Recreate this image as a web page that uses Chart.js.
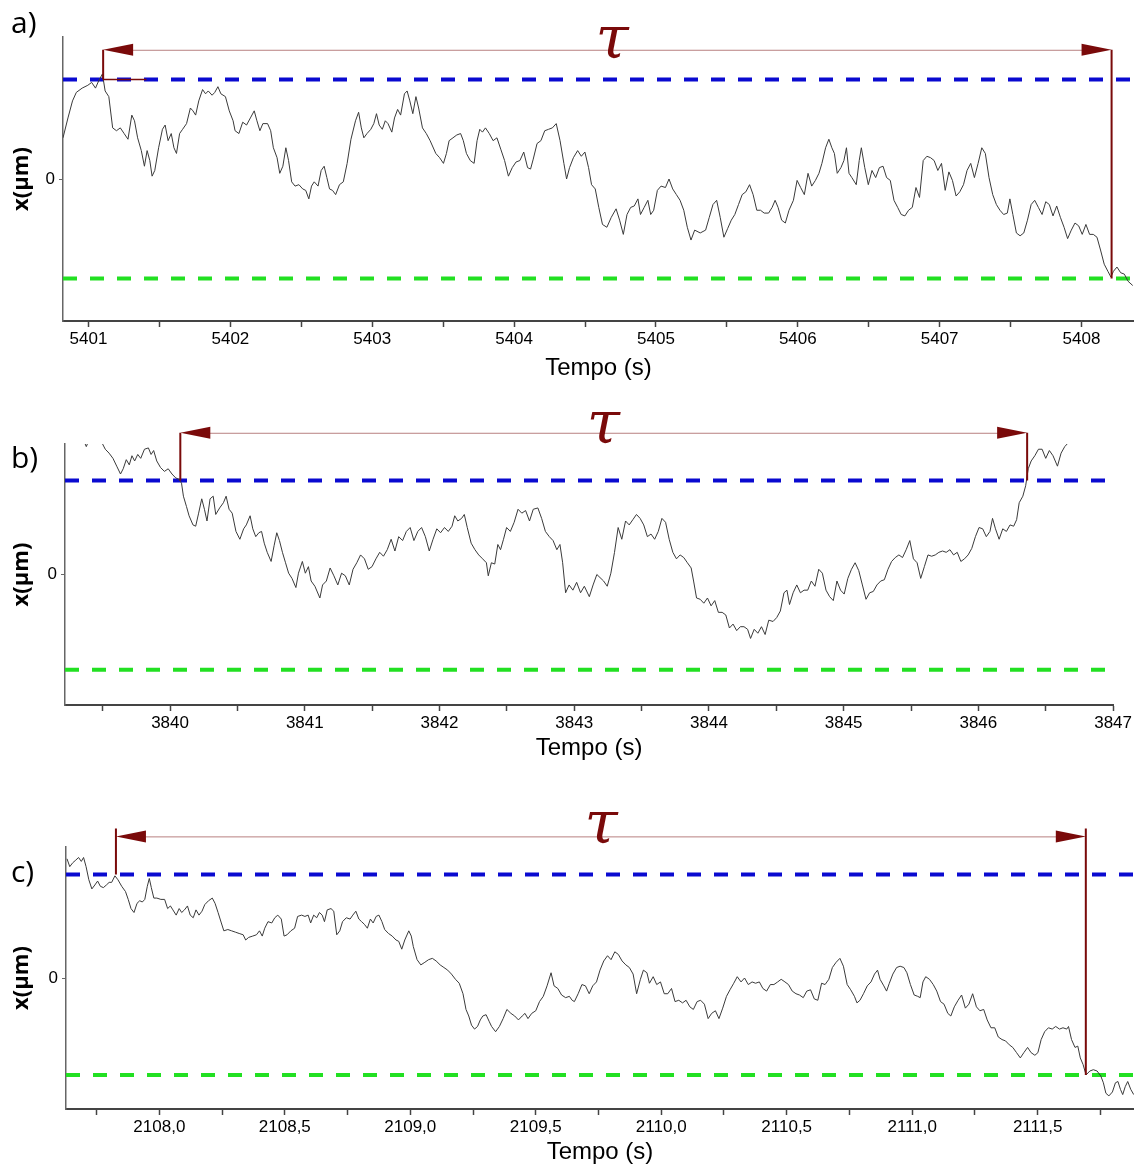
<!DOCTYPE html>
<html lang="pt">
<head>
<meta charset="UTF-8">
<title>Tempo de passagem</title>
<script src="https://cdn.jsdelivr.net/npm/chart.js"></script>
<style>
  body { margin: 0; background: #fff; }
  #wrap { position: relative; width: 1134px; height: 1164px; }
  #wrap canvas { position: absolute; left: 0; }
</style>
</head>
<body>
<div id="wrap">
  <canvas id="chartA" width="1134" height="390" style="top:0"></canvas>
  <canvas id="chartB" width="1134" height="390" style="top:390px"></canvas>
  <canvas id="chartC" width="1134" height="384" style="top:780px"></canvas>
</div>
<script>
// traces: [tempo (s), x]
const traceA = [
  [5400.820,0.29],[5400.855,0.43],[5400.887,0.55],[5400.914,0.61],[5400.955,0.64],[5400.995,0.66],[5401.022,0.68],[5401.049,0.64],[5401.071,0.69],[5401.098,0.74],
  [5401.117,0.62],[5401.143,0.58],[5401.170,0.36],[5401.197,0.34],[5401.224,0.36],[5401.251,0.32],[5401.278,0.28],[5401.305,0.45],[5401.324,0.41],[5401.346,0.29],
  [5401.372,0.20],[5401.394,0.09],[5401.413,0.20],[5401.432,0.13],[5401.448,0.02],[5401.467,0.06],[5401.494,0.22],[5401.521,0.35],[5401.540,0.38],[5401.561,0.27],
  [5401.583,0.32],[5401.602,0.22],[5401.620,0.18],[5401.642,0.32],[5401.663,0.35],[5401.691,0.39],[5401.718,0.50],[5401.736,0.48],[5401.755,0.45],[5401.777,0.55],
  [5401.804,0.63],[5401.825,0.60],[5401.844,0.62],[5401.871,0.59],[5401.890,0.61],[5401.912,0.65],[5401.933,0.60],[5401.965,0.58],[5401.992,0.48],[5402.019,0.41],
  [5402.033,0.34],[5402.060,0.32],[5402.087,0.40],[5402.114,0.38],[5402.141,0.43],[5402.168,0.48],[5402.187,0.41],[5402.208,0.34],[5402.229,0.39],[5402.262,0.39],
  [5402.284,0.34],[5402.303,0.22],[5402.329,0.15],[5402.348,0.04],[5402.370,0.09],[5402.391,0.22],[5402.410,0.13],[5402.432,-0.02],[5402.456,-0.05],[5402.483,-0.04],
  [5402.510,-0.07],[5402.531,-0.08],[5402.553,-0.14],[5402.572,-0.05],[5402.591,-0.02],[5402.618,-0.05],[5402.640,0.06],[5402.661,0.09],[5402.680,0.01],[5402.699,-0.07],
  [5402.720,-0.08],[5402.742,-0.11],[5402.769,-0.04],[5402.796,-0.02],[5402.823,0.11],[5402.850,0.28],[5402.882,0.41],[5402.904,0.47],[5402.923,0.36],[5402.941,0.29],
  [5402.963,0.32],[5402.990,0.35],[5403.011,0.39],[5403.030,0.46],[5403.049,0.38],[5403.071,0.35],[5403.092,0.41],[5403.111,0.39],[5403.138,0.33],[5403.157,0.43],
  [5403.179,0.49],[5403.200,0.45],[5403.227,0.60],[5403.246,0.62],[5403.265,0.55],[5403.286,0.46],[5403.308,0.58],[5403.327,0.50],[5403.354,0.36],[5403.381,0.32],
  [5403.408,0.27],[5403.448,0.18],[5403.475,0.15],[5403.502,0.11],[5403.523,0.18],[5403.542,0.27],[5403.569,0.29],[5403.596,0.31],[5403.623,0.32],[5403.642,0.27],
  [5403.664,0.18],[5403.691,0.13],[5403.718,0.11],[5403.739,0.27],[5403.758,0.35],[5403.777,0.33],[5403.798,0.36],[5403.825,0.32],[5403.852,0.27],[5403.879,0.29],
  [5403.906,0.21],[5403.933,0.13],[5403.960,0.02],[5403.987,0.08],[5404.014,0.12],[5404.041,0.13],[5404.068,0.19],[5404.095,0.08],[5404.116,0.07],[5404.135,0.14],
  [5404.162,0.25],[5404.189,0.27],[5404.216,0.34],[5404.243,0.35],[5404.270,0.36],[5404.297,0.39],[5404.324,0.27],[5404.351,0.11],[5404.370,0.00],[5404.391,0.08],
  [5404.418,0.15],[5404.448,0.20],[5404.474,0.16],[5404.499,0.19],[5404.525,0.08],[5404.546,-0.04],[5404.572,-0.07],[5404.597,-0.20],[5404.623,-0.32],[5404.654,-0.34],
  [5404.685,-0.27],[5404.719,-0.21],[5404.744,-0.29],[5404.770,-0.39],[5404.796,-0.25],[5404.822,-0.20],[5404.847,-0.19],[5404.873,-0.14],[5404.891,-0.25],[5404.917,-0.20],
  [5404.943,-0.15],[5404.963,-0.25],[5404.984,-0.22],[5405.010,-0.08],[5405.036,-0.05],[5405.067,-0.06],[5405.092,0.00],[5405.118,-0.07],[5405.144,-0.11],[5405.170,-0.15],
  [5405.196,-0.22],[5405.221,-0.34],[5405.247,-0.43],[5405.273,-0.36],[5405.312,-0.38],[5405.350,-0.36],[5405.376,-0.27],[5405.402,-0.18],[5405.428,-0.15],[5405.453,-0.27],
  [5405.479,-0.41],[5405.505,-0.35],[5405.531,-0.29],[5405.556,-0.25],[5405.582,-0.18],[5405.608,-0.11],[5405.634,-0.09],[5405.660,-0.04],[5405.685,-0.11],[5405.711,-0.22],
  [5405.737,-0.22],[5405.763,-0.24],[5405.794,-0.24],[5405.819,-0.20],[5405.840,-0.15],[5405.861,-0.20],[5405.886,-0.29],[5405.912,-0.31],[5405.938,-0.22],[5405.969,-0.15],
  [5405.995,-0.01],[5406.020,-0.06],[5406.046,-0.11],[5406.072,0.04],[5406.098,-0.05],[5406.124,-0.01],[5406.149,0.04],[5406.170,0.11],[5406.196,0.22],[5406.219,0.28],
  [5406.240,0.22],[5406.258,0.18],[5406.278,0.04],[5406.304,0.08],[5406.325,0.13],[5406.343,0.22],[5406.361,0.04],[5406.381,0.01],[5406.412,-0.04],[5406.433,0.13],
  [5406.448,0.22],[5406.472,0.08],[5406.497,-0.04],[5406.523,0.06],[5406.549,0.01],[5406.575,0.08],[5406.601,0.09],[5406.626,0.01],[5406.652,-0.01],[5406.678,-0.15],
  [5406.704,-0.20],[5406.729,-0.25],[5406.755,-0.26],[5406.781,-0.22],[5406.807,-0.20],[5406.833,-0.06],[5406.858,-0.13],[5406.884,0.13],[5406.910,0.16],[5406.936,0.15],
  [5406.961,0.13],[5406.987,0.06],[5407.013,0.11],[5407.039,-0.08],[5407.065,0.05],[5407.090,-0.01],[5407.116,-0.12],[5407.142,-0.09],[5407.168,-0.04],[5407.193,0.06],
  [5407.219,0.11],[5407.245,0.01],[5407.271,0.11],[5407.297,0.22],[5407.322,0.18],[5407.348,0.01],[5407.374,-0.11],[5407.400,-0.18],[5407.425,-0.22],[5407.451,-0.25],
  [5407.477,-0.24],[5407.495,-0.14],[5407.516,-0.25],[5407.541,-0.38],[5407.567,-0.40],[5407.593,-0.38],[5407.619,-0.29],[5407.645,-0.18],[5407.670,-0.15],[5407.696,-0.20],
  [5407.722,-0.25],[5407.748,-0.16],[5407.773,-0.18],[5407.799,-0.26],[5407.825,-0.19],[5407.851,-0.27],[5407.877,-0.34],[5407.902,-0.42],[5407.928,-0.36],[5407.954,-0.31],
  [5407.980,-0.33],[5408.005,-0.39],[5408.031,-0.32],[5408.057,-0.39],[5408.083,-0.39],[5408.109,-0.41],[5408.134,-0.50],[5408.160,-0.60],[5408.186,-0.65],[5408.207,-0.69],
  [5408.225,-0.65],[5408.250,-0.62],[5408.276,-0.66],[5408.302,-0.67],[5408.328,-0.72],[5408.361,-0.75]
];
const traceB = [
  [3839.222,1.10],[3839.349,1.05],[3839.378,0.98],[3839.406,1.05],[3839.477,1.06],[3839.499,1.00],[3839.519,0.96],[3839.547,0.93],[3839.576,0.89],[3839.604,0.83],
  [3839.632,0.77],[3839.652,0.81],[3839.675,0.88],[3839.697,0.84],[3839.717,0.91],[3839.737,0.87],[3839.760,0.92],[3839.782,0.89],[3839.810,0.96],[3839.839,0.97],
  [3839.859,0.92],[3839.878,0.95],[3839.901,0.87],[3839.929,0.82],[3839.958,0.79],[3839.986,0.81],[3840.014,0.77],[3840.042,0.74],[3840.065,0.73],[3840.085,0.70],
  [3840.099,0.60],[3840.122,0.52],[3840.141,0.45],[3840.170,0.38],[3840.190,0.37],[3840.212,0.47],[3840.235,0.58],[3840.255,0.50],[3840.274,0.41],[3840.297,0.58],
  [3840.320,0.60],[3840.339,0.46],[3840.368,0.51],[3840.396,0.55],[3840.416,0.60],[3840.438,0.50],[3840.461,0.47],[3840.489,0.33],[3840.518,0.27],[3840.546,0.35],
  [3840.566,0.38],[3840.594,0.45],[3840.614,0.35],[3840.636,0.29],[3840.659,0.32],[3840.679,0.33],[3840.699,0.24],[3840.721,0.17],[3840.750,0.10],[3840.772,0.22],
  [3840.792,0.32],[3840.812,0.26],[3840.834,0.17],[3840.857,0.09],[3840.880,0.01],[3840.905,-0.03],[3840.934,-0.10],[3840.953,0.01],[3840.982,0.10],[3841.004,0.01],
  [3841.027,0.06],[3841.047,-0.05],[3841.075,-0.09],[3841.112,-0.18],[3841.132,-0.08],[3841.160,-0.05],[3841.188,0.05],[3841.216,-0.01],[3841.245,-0.08],[3841.273,0.01],
  [3841.301,-0.01],[3841.330,-0.08],[3841.358,0.04],[3841.386,0.09],[3841.414,0.15],[3841.443,0.12],[3841.471,0.04],[3841.499,0.06],[3841.528,0.12],[3841.556,0.17],
  [3841.584,0.14],[3841.612,0.19],[3841.641,0.27],[3841.669,0.18],[3841.697,0.29],[3841.726,0.26],[3841.754,0.33],[3841.782,0.36],[3841.810,0.26],[3841.839,0.33],
  [3841.867,0.36],[3841.895,0.29],[3841.924,0.18],[3841.952,0.27],[3841.980,0.35],[3842.008,0.32],[3842.037,0.36],[3842.065,0.33],[3842.093,0.37],[3842.113,0.45],
  [3842.136,0.41],[3842.164,0.43],[3842.184,0.46],[3842.206,0.36],[3842.235,0.24],[3842.263,0.19],[3842.291,0.15],[3842.320,0.12],[3842.348,0.09],[3842.362,-0.01],
  [3842.385,0.09],[3842.410,0.08],[3842.433,0.23],[3842.453,0.19],[3842.475,0.27],[3842.498,0.36],[3842.526,0.33],[3842.554,0.40],[3842.583,0.50],[3842.611,0.47],
  [3842.639,0.49],[3842.668,0.41],[3842.696,0.50],[3842.730,0.51],[3842.758,0.43],[3842.786,0.33],[3842.815,0.29],[3842.843,0.26],[3842.871,0.19],[3842.894,0.23],
  [3842.914,0.09],[3842.936,-0.14],[3842.962,-0.08],[3842.990,-0.12],[3843.018,-0.06],[3843.047,-0.14],[3843.075,-0.09],[3843.112,-0.17],[3843.140,-0.08],[3843.168,0.00],
  [3843.218,-0.05],[3843.245,-0.09],[3843.272,0.01],[3843.299,0.17],[3843.326,0.36],[3843.353,0.27],[3843.381,0.41],[3843.408,0.38],[3843.435,0.42],[3843.462,0.46],
  [3843.489,0.43],[3843.516,0.38],[3843.543,0.29],[3843.570,0.31],[3843.597,0.27],[3843.624,0.33],[3843.651,0.43],[3843.678,0.40],[3843.705,0.27],[3843.732,0.17],
  [3843.759,0.12],[3843.786,0.15],[3843.813,0.13],[3843.840,0.09],[3843.868,0.05],[3843.886,-0.05],[3843.908,-0.18],[3843.935,-0.19],[3843.962,-0.22],[3843.989,-0.18],
  [3844.016,-0.24],[3844.043,-0.20],[3844.070,-0.29],[3844.098,-0.29],[3844.125,-0.31],[3844.152,-0.41],[3844.179,-0.38],[3844.206,-0.43],[3844.233,-0.40],[3844.260,-0.40],
  [3844.287,-0.42],[3844.309,-0.49],[3844.336,-0.42],[3844.363,-0.45],[3844.390,-0.40],[3844.417,-0.46],[3844.444,-0.35],[3844.476,-0.36],[3844.503,-0.33],[3844.530,-0.28],
  [3844.557,-0.14],[3844.579,-0.12],[3844.598,-0.23],[3844.625,-0.14],[3844.652,-0.08],[3844.679,-0.14],[3844.706,-0.12],[3844.733,-0.12],[3844.760,-0.05],[3844.787,-0.09],
  [3844.815,0.04],[3844.842,0.01],[3844.869,-0.12],[3844.896,-0.17],[3844.923,-0.20],[3844.950,-0.05],[3844.977,-0.12],[3845.004,-0.15],[3845.031,-0.03],[3845.058,0.04],
  [3845.085,0.09],[3845.112,0.03],[3845.139,-0.08],[3845.166,-0.19],[3845.193,-0.14],[3845.220,-0.13],[3845.247,-0.08],[3845.275,-0.05],[3845.302,-0.04],[3845.329,0.04],
  [3845.356,0.10],[3845.383,0.13],[3845.410,0.15],[3845.437,0.13],[3845.464,0.19],[3845.491,0.26],[3845.518,0.12],[3845.545,0.09],[3845.572,-0.03],[3845.599,0.06],
  [3845.626,0.15],[3845.653,0.14],[3845.680,0.15],[3845.707,0.17],[3845.734,0.18],[3845.761,0.17],[3845.789,0.19],[3845.816,0.15],[3845.843,0.17],[3845.870,0.10],
  [3845.897,0.12],[3845.924,0.15],[3845.951,0.20],[3845.978,0.29],[3846.005,0.36],[3846.032,0.35],[3846.059,0.29],[3846.086,0.33],[3846.105,0.43],[3846.127,0.35],
  [3846.154,0.27],[3846.181,0.35],[3846.208,0.33],[3846.235,0.38],[3846.262,0.37],[3846.284,0.42],[3846.303,0.55],[3846.330,0.60],[3846.351,0.68],[3846.370,0.81],
  [3846.392,0.87],[3846.419,0.91],[3846.446,0.96],[3846.473,0.96],[3846.500,0.89],[3846.527,0.95],[3846.554,0.91],[3846.587,0.83],[3846.614,0.93],[3846.641,0.98],
  [3846.668,1.01],[3846.708,1.06],[3846.776,1.08]
];
const traceC = [
  [2107.632,0.91],[2107.643,0.85],[2107.655,0.88],[2107.667,0.90],[2107.678,0.92],[2107.689,0.89],[2107.698,0.92],[2107.708,0.85],[2107.719,0.75],[2107.731,0.68],
  [2107.743,0.71],[2107.754,0.74],[2107.765,0.70],[2107.777,0.69],[2107.789,0.71],[2107.800,0.73],[2107.810,0.73],[2107.823,0.78],[2107.835,0.75],[2107.850,0.70],
  [2107.865,0.66],[2107.876,0.60],[2107.887,0.53],[2107.899,0.50],[2107.911,0.57],[2107.922,0.59],[2107.932,0.58],[2107.942,0.60],[2107.952,0.70],[2107.960,0.76],
  [2107.968,0.69],[2107.978,0.61],[2107.990,0.61],[2108.006,0.60],[2108.021,0.60],[2108.033,0.53],[2108.044,0.55],[2108.054,0.52],[2108.067,0.48],[2108.079,0.53],
  [2108.089,0.50],[2108.100,0.52],[2108.112,0.55],[2108.123,0.48],[2108.135,0.46],[2108.146,0.52],[2108.158,0.48],[2108.170,0.51],[2108.181,0.56],[2108.196,0.59],
  [2108.211,0.61],[2108.222,0.57],[2108.234,0.50],[2108.247,0.42],[2108.257,0.36],[2108.273,0.37],[2108.288,0.36],[2108.303,0.35],[2108.318,0.34],[2108.334,0.33],
  [2108.344,0.29],[2108.356,0.31],[2108.372,0.32],[2108.387,0.33],[2108.399,0.36],[2108.410,0.32],[2108.420,0.38],[2108.433,0.43],[2108.448,0.42],[2108.460,0.46],
  [2108.472,0.48],[2108.486,0.45],[2108.497,0.32],[2108.509,0.33],[2108.524,0.36],[2108.539,0.38],[2108.551,0.47],[2108.567,0.48],[2108.580,0.47],[2108.593,0.48],
  [2108.603,0.42],[2108.615,0.48],[2108.627,0.46],[2108.638,0.50],[2108.649,0.48],[2108.658,0.43],[2108.669,0.52],[2108.684,0.53],[2108.695,0.51],[2108.707,0.33],
  [2108.719,0.36],[2108.730,0.43],[2108.745,0.46],[2108.760,0.45],[2108.771,0.48],[2108.783,0.51],[2108.795,0.45],[2108.806,0.43],[2108.817,0.41],[2108.829,0.38],
  [2108.841,0.45],[2108.852,0.42],[2108.864,0.47],[2108.875,0.48],[2108.887,0.43],[2108.898,0.37],[2108.913,0.34],[2108.928,0.32],[2108.943,0.29],[2108.954,0.28],
  [2108.966,0.22],[2108.978,0.29],[2108.994,0.36],[2109.004,0.32],[2109.012,0.24],[2109.027,0.14],[2109.042,0.10],[2109.058,0.12],[2109.073,0.14],[2109.088,0.15],
  [2109.103,0.13],[2109.119,0.10],[2109.134,0.08],[2109.149,0.06],[2109.164,0.03],[2109.180,-0.01],[2109.195,-0.04],[2109.210,-0.12],[2109.222,-0.24],[2109.233,-0.29],
  [2109.244,-0.36],[2109.256,-0.39],[2109.268,-0.37],[2109.279,-0.32],[2109.289,-0.29],[2109.302,-0.28],[2109.314,-0.33],[2109.324,-0.37],[2109.340,-0.41],[2109.355,-0.37],
  [2109.370,-0.31],[2109.385,-0.24],[2109.401,-0.27],[2109.416,-0.29],[2109.431,-0.32],[2109.446,-0.29],[2109.457,-0.27],[2109.469,-0.31],[2109.484,-0.27],[2109.500,-0.25],
  [2109.515,-0.18],[2109.530,-0.14],[2109.545,-0.06],[2109.561,0.04],[2109.573,-0.06],[2109.588,-0.08],[2109.603,-0.13],[2109.619,-0.15],[2109.634,-0.14],[2109.645,-0.17],
  [2109.654,-0.18],[2109.669,-0.12],[2109.684,-0.05],[2109.698,-0.06],[2109.713,-0.12],[2109.727,-0.06],[2109.742,-0.03],[2109.756,0.06],[2109.771,0.13],[2109.786,0.17],
  [2109.800,0.14],[2109.815,0.20],[2109.829,0.18],[2109.844,0.13],[2109.859,0.10],[2109.873,0.08],[2109.888,0.03],[2109.902,-0.12],[2109.917,-0.01],[2109.929,0.06],
  [2109.943,0.04],[2109.953,-0.04],[2109.968,0.01],[2109.982,-0.05],[2109.997,-0.03],[2110.012,-0.12],[2110.026,-0.12],[2110.041,-0.08],[2110.055,-0.18],[2110.070,-0.17],
  [2110.085,-0.19],[2110.099,-0.17],[2110.114,-0.22],[2110.128,-0.24],[2110.143,-0.18],[2110.157,-0.17],[2110.172,-0.20],[2110.187,-0.31],[2110.201,-0.27],[2110.216,-0.25],
  [2110.230,-0.31],[2110.245,-0.23],[2110.260,-0.14],[2110.274,-0.09],[2110.289,-0.04],[2110.303,0.01],[2110.318,-0.03],[2110.332,0.00],[2110.347,-0.05],[2110.362,-0.03],
  [2110.376,-0.04],[2110.391,-0.03],[2110.405,-0.08],[2110.420,-0.10],[2110.435,-0.05],[2110.449,-0.05],[2110.464,-0.03],[2110.478,-0.01],[2110.493,-0.03],[2110.507,-0.05],
  [2110.522,-0.10],[2110.537,-0.12],[2110.551,-0.13],[2110.566,-0.15],[2110.580,-0.10],[2110.595,-0.09],[2110.610,-0.16],[2110.624,-0.17],[2110.639,-0.04],[2110.653,-0.05],
  [2110.668,-0.01],[2110.682,0.08],[2110.697,0.12],[2110.712,0.15],[2110.726,0.09],[2110.741,-0.05],[2110.755,-0.09],[2110.770,-0.14],[2110.780,-0.19],[2110.792,-0.17],
  [2110.806,-0.12],[2110.821,-0.06],[2110.836,-0.03],[2110.850,0.03],[2110.862,0.06],[2110.872,-0.01],[2110.887,-0.06],[2110.898,-0.10],[2110.909,-0.04],[2110.923,0.03],
  [2110.938,0.08],[2110.952,0.09],[2110.967,0.08],[2110.979,0.04],[2110.993,-0.05],[2111.008,-0.13],[2111.022,-0.14],[2111.032,-0.15],[2111.043,-0.03],[2111.054,0.01],
  [2111.069,-0.01],[2111.084,-0.05],[2111.098,-0.10],[2111.113,-0.18],[2111.127,-0.20],[2111.142,-0.27],[2111.154,-0.29],[2111.168,-0.22],[2111.183,-0.17],[2111.197,-0.13],
  [2111.212,-0.23],[2111.226,-0.20],[2111.241,-0.12],[2111.256,-0.22],[2111.270,-0.25],[2111.285,-0.24],[2111.299,-0.32],[2111.314,-0.38],[2111.329,-0.38],[2111.343,-0.45],
  [2111.358,-0.47],[2111.372,-0.48],[2111.387,-0.51],[2111.401,-0.53],[2111.416,-0.57],[2111.431,-0.61],[2111.445,-0.57],[2111.460,-0.53],[2111.474,-0.57],[2111.489,-0.59],
  [2111.501,-0.57],[2111.514,-0.47],[2111.528,-0.41],[2111.543,-0.38],[2111.558,-0.39],[2111.572,-0.37],[2111.587,-0.39],[2111.601,-0.38],[2111.616,-0.39],[2111.623,-0.37],
  [2111.635,-0.47],[2111.649,-0.53],[2111.660,-0.52],[2111.670,-0.61],[2111.681,-0.66],[2111.693,-0.74],[2111.708,-0.71],[2111.722,-0.70],[2111.737,-0.71],[2111.752,-0.75],
  [2111.762,-0.80],[2111.772,-0.88],[2111.784,-0.90],[2111.798,-0.87],[2111.810,-0.80],[2111.820,-0.79],[2111.830,-0.85],[2111.839,-0.89],[2111.849,-0.83],[2111.859,-0.79],
  [2111.871,-0.85],[2111.883,-0.89]
];

// limiares (linhas tracejadas)
const upperLevel = [0.70, 0.72, 0.79];
const lowerLevel = [-0.70, -0.73, -0.74];

// eixos
const xRangeA = [5400.82, 5408.37];
const xRangeB = [3839.22, 3847.0];
const xRangeC = [2107.628, 2111.884];
const ticksA = [5401, 5402, 5403, 5404, 5405, 5406, 5407, 5408];
const ticksB = [3840, 3841, 3842, 3843, 3844, 3845, 3846, 3847];
const ticksC = [2108.0, 2108.5, 2109.0, 2109.5, 2110.0, 2110.5, 2111.0, 2111.5];

// tempo de passagem tau
const tauStart = [5401.103, 3840.076, 2107.827];
const tauEnd = [5408.212, 3846.362, 2111.692];
const tauArrowLevel = [0.91, 1.086, 1.081];
const tauEndOn = ['lower', 'upper', 'lower'];
const tauGlyph = [[5404.69, 0.854], [3843.217, 1.011], [2109.76, 1.033]];

const narrow = "'Liberation Sans Narrow', 'Liberation Sans', Arial, sans-serif";
const maroon = '#7a0a0a';

// desenha a seta do tau e o rotulo do painel
const tauPlugin = {
    id: 'tauMark',
    afterDraw(chart, args, o) {
        const ctx = chart.ctx;
        const x = chart.scales.x, y = chart.scales.y;
        const xs = x.getPixelForValue(o.start);
        const xe = x.getPixelForValue(o.end);
        const ya = y.getPixelForValue(o.arrow);
        const yUp = y.getPixelForValue(o.upper);
        const yEnd = y.getPixelForValue(o.endOn === 'upper' ? o.upper : o.lower);
        ctx.save();
        // linha fina
        ctx.strokeStyle = '#b88080';
        ctx.lineWidth = 1;
        ctx.beginPath();
        ctx.moveTo(xs + 28, ya + 0.5);
        ctx.lineTo(xe - 28, ya + 0.5);
        ctx.stroke();
        // pontas
        ctx.fillStyle = maroon;
        ctx.beginPath();
        ctx.moveTo(xs, ya); ctx.lineTo(xs + 30, ya - 6); ctx.lineTo(xs + 30, ya + 6);
        ctx.closePath(); ctx.fill();
        ctx.beginPath();
        ctx.moveTo(xe, ya); ctx.lineTo(xe - 30, ya - 6); ctx.lineTo(xe - 30, ya + 6);
        ctx.closePath(); ctx.fill();
        // verticais
        ctx.strokeStyle = maroon;
        ctx.lineWidth = 2;
        ctx.beginPath();
        ctx.moveTo(xs, ya - o.over); ctx.lineTo(xs, yUp);
        ctx.moveTo(xe, ya - o.over); ctx.lineTo(xe, yEnd);
        ctx.stroke();
        if (o.hook) {
            ctx.lineWidth = 1.5;
            ctx.beginPath();
            ctx.moveTo(xs, yUp); ctx.lineTo(x.getPixelForValue(o.hook), yUp);
            ctx.stroke();
        }
        // tau
        ctx.fillStyle = maroon;
        ctx.font = "italic 60px 'DejaVu Serif'";
        ctx.textAlign = 'center';
        ctx.textBaseline = 'alphabetic';
        ctx.fillText('τ', x.getPixelForValue(o.glyph[0]), y.getPixelForValue(o.glyph[1]));
        // rotulo do painel
        ctx.fillStyle = '#000';
        ctx.font = "30px 'Open Sans'";
        ctx.textAlign = 'left';
        ctx.fillText(o.label, 11, o.labelY);
        ctx.restore();
    }
};

function makePanel(canvasId, i, trace, range, majors, comma, box) {
    // tiques menores no meio dos maiores
    const step = majors[1] - majors[0];
    const all = [];
    for (let k = -1; k < majors.length; k++) {
        const m = majors[0] + k * step;
        if (k >= 0) all.push(majors[k]);
        const half = +(m + step / 2).toFixed(3);
        if (half >= range[0] && half <= range[1]) all.push(half);
    }
    all.sort((a, b) => a - b);

    new Chart(document.getElementById(canvasId), {
        type: 'line',
        data: {
            datasets: [
                {
                    data: trace.map(p => ({x: p[0], y: p[1]})),
                    borderColor: '#3a3a3a', borderWidth: 1,
                    pointRadius: 0, tension: 0, order: 0
                },
                {
                    data: [{x: range[0], y: upperLevel[i]}, {x: range[1], y: upperLevel[i]}],
                    borderColor: '#0a0ad0', borderWidth: 4, borderDash: [14, 13],
                    pointRadius: 0, order: 1
                },
                {
                    data: [{x: range[0], y: lowerLevel[i]}, {x: range[1], y: lowerLevel[i]}],
                    borderColor: '#22e022', borderWidth: 4, borderDash: [14, 13],
                    pointRadius: 0, order: 1
                }
            ]
        },
        options: {
            responsive: false,
            animation: false,
            layout: { padding: { top: box.top, right: box.right, left: 0, bottom: 0 } },
            plugins: {
                legend: { display: false },
                tooltip: { enabled: false },
                tauMark: {
                    start: tauStart[i], end: tauEnd[i], arrow: tauArrowLevel[i],
                    upper: upperLevel[i], lower: lowerLevel[i], endOn: tauEndOn[i],
                    glyph: tauGlyph[i], hook: box.hook, over: box.over,
                    label: box.label, labelY: box.labelY
                }
            },
            scales: {
                x: {
                    type: 'linear',
                    min: range[0], max: range[1],
                    afterBuildTicks: s => { s.ticks = all.map(v => ({value: v})); },
                    afterFit: s => { s.height = box.axisH; },
                    border: { color: '#444', width: 2 },
                    grid: { drawOnChartArea: false, tickLength: 6, tickColor: '#444', tickWidth: 1.5 },
                    ticks: {
                        autoSkip: false, maxRotation: 0, padding: 2, color: '#000',
                        font: { family: narrow, size: 17 },
                        callback: v => majors.includes(v) ? (comma ? v.toFixed(1).replace('.', ',') : String(v)) : ''
                    },
                    title: {
                        display: true, text: 'Tempo (s)', color: '#000',
                        font: { family: narrow, size: 24, lineHeight: 1 },
                        padding: { top: 0, bottom: box.titlePad }
                    }
                },
                y: {
                    min: -1, max: 1,
                    afterBuildTicks: s => { s.ticks = [{value: 0}]; },
                    afterFit: s => { s.width = box.axisW; },
                    border: { color: '#666', width: 1.5 },
                    grid: { drawOnChartArea: false, tickLength: 4, tickColor: '#666' },
                    ticks: { padding: 4, color: '#000', font: { family: narrow, size: 17 } },
                    title: {
                        display: true, text: 'x(μm)', color: '#000',
                        font: { family: "'Open Sans'", size: 22, weight: '700', lineHeight: 1 },
                        padding: { top: 11, bottom: 0 }
                    }
                }
            }
        },
        plugins: [tauPlugin]
    });
}

makePanel('chartA', 0, traceA, xRangeA, ticksA, false,
    { top: 37, right: 0, axisW: 63, axisH: 69, titlePad: 10, label: 'a)', labelY: 33, hook: 5401.408, over: 0 });
makePanel('chartB', 1, traceB, xRangeB, ticksB, false,
    { top: 54, right: 17, axisW: 65, axisH: 75, titlePad: 20, label: 'b)', labelY: 78, hook: null, over: 0 });
makePanel('chartC', 2, traceC, xRangeC, ticksC, true,
    { top: 67, right: 0, axisW: 66, axisH: 55, titlePad: 0, label: 'c)', labelY: 102, hook: null, over: 8 });
</script>
</body>
</html>
